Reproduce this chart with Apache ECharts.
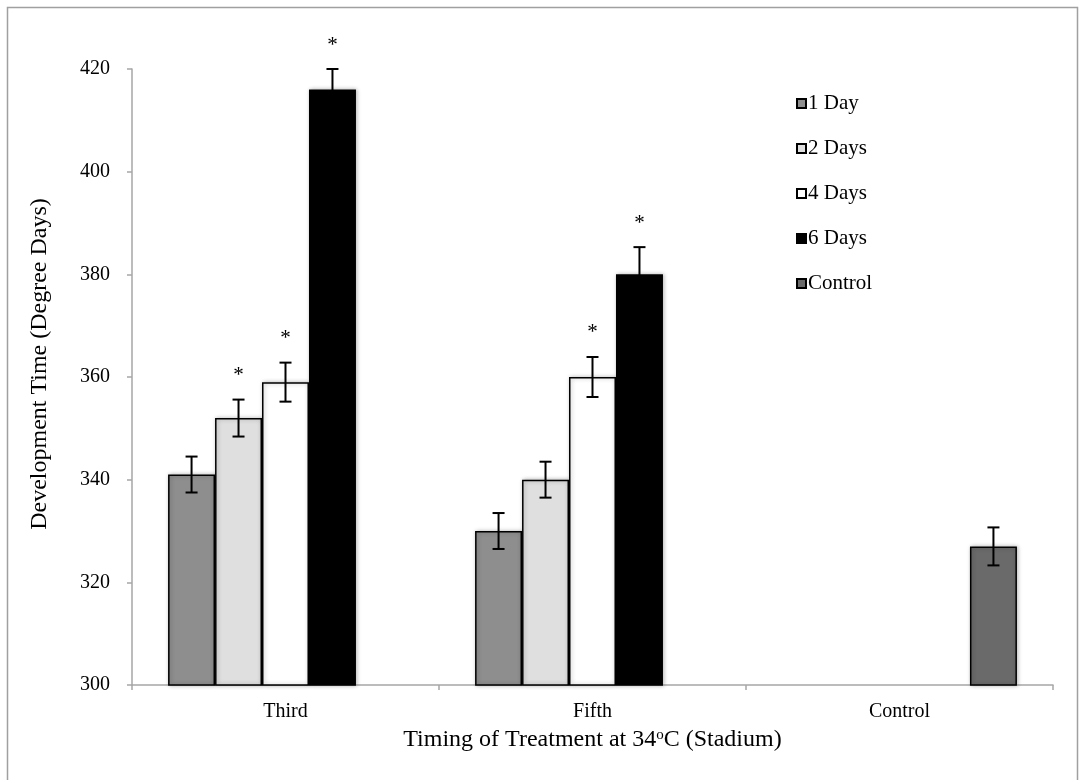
<!DOCTYPE html>
<html>
<head>
<meta charset="utf-8">
<script src="https://cdn.jsdelivr.net/npm/echarts@6/dist/echarts.min.js"></script>
<style>
html,body{margin:0;padding:0;background:#fff;}
#chart{width:1085px;height:780px;}
</style>
</head>
<body>
<div id="chart"></div>
<script>
// ---- data ----
var categories = ['Third', 'Fifth', 'Control'];
var seriesNames = ['1 Day', '2 Days', '4 Days', '6 Days', 'Control'];
var valOneDay   = [341, 330, null];
var valTwoDays  = [352, 340, null];
var valFourDays = [359, 360, null];
var valSixDays  = [416, 380, null];
var valControl  = [null, null, 327];
var errOneDay   = [3.5, 3.5, null];
var errTwoDays  = [3.6, 3.5, null];
var errFourDays = [3.8, 3.9, null];
var errSixDays  = [4.0, 5.3, null];
var errControl  = [null, null, 3.7];
var sigOneDay   = [0, 0, 0];
var sigTwoDays  = [1, 0, 0];
var sigFourDays = [1, 1, 0];
var sigSixDays  = [1, 1, 0];
var sigControl  = [0, 0, 0];
var yTicks = [300, 320, 340, 360, 380, 400, 420];
var xTitle = 'Timing of Treatment at 34{sup|o}C (Stadium)';
var yTitle = 'Development Time (Degree Days)';

var values = [valOneDay, valTwoDays, valFourDays, valSixDays, valControl];
var errors = [errOneDay, errTwoDays, errFourDays, errSixDays, errControl];
var sigs = [sigOneDay, sigTwoDays, sigFourDays, sigSixDays, sigControl];
var colors = ['#8e8e8e', '#dfdfdf', '#ffffff', '#000000', '#6a6a6a'];

var FONT = '"Liberation Serif", "DejaVu Serif", serif';
var CAT_GAP = 0.235;

var barSeries = seriesNames.map(function (name, i) {
  return {
    name: name,
    type: 'bar',
    data: values[i],
    barGap: '0%',
    barCategoryGap: (CAT_GAP * 100) + '%',
    itemStyle: {
      color: colors[i],
      borderColor: '#000',
      borderWidth: 1.5,
      shadowColor: 'rgba(0,0,0,0.28)',
      shadowBlur: 4,
      shadowOffsetX: 1
    },
    emphasis: { disabled: true },
    z: 2
  };
});

var errData = [];
for (var s = 0; s < seriesNames.length; s++) {
  for (var c = 0; c < categories.length; c++) {
    if (values[s][c] != null) {
      errData.push([c, s, values[s][c], errors[s][c], sigs[s][c]]);
    }
  }
}

var errSeries = {
  type: 'custom',
  data: errData,
  encode: { x: 0, y: 2 },
  z: 5,
  silent: true,
  renderItem: function (params, api) {
    var cat = api.value(0), si = api.value(1), v = api.value(2), e = api.value(3), star = api.value(4);
    var band = api.size([1, 0])[0];
    var bw = band * (1 - CAT_GAP) / seriesNames.length;
    var base = api.coord([cat, v]);
    var x = base[0] + (si - (seriesNames.length - 1) / 2) * bw;
    var top = api.coord([cat, v + e])[1];
    var bot = api.coord([cat, v - e])[1];
    var cap = 6;
    var st = { stroke: '#000', lineWidth: 2 };
    var children = [
      { type: 'line', shape: { x1: x, y1: top, x2: x, y2: bot }, style: st },
      { type: 'line', shape: { x1: x - cap, y1: top, x2: x + cap, y2: top }, style: st },
      { type: 'line', shape: { x1: x - cap, y1: bot, x2: x + cap, y2: bot }, style: st }
    ];
    if (star) {
      children.push({
        type: 'text',
        style: {
          text: '*', x: x, y: top - 24, align: 'center', verticalAlign: 'middle',
          font: '21px ' + FONT, fill: '#000'
        }
      });
    }
    return { type: 'group', children: children };
  }
};

var chart = echarts.init(document.getElementById('chart'), null, { renderer: 'canvas' });
chart.setOption({
  backgroundColor: '#fff',
  animation: false,
  graphic: [{
    type: 'rect',
    shape: { x: 7.5, y: 7.5, width: 1070, height: 820 },
    style: { fill: 'none', stroke: '#a0a0a0', lineWidth: 1.5 },
    silent: true,
    z: -10
  }, {
    type: 'text',
    x: 40,
    y: 364,
    rotation: Math.PI / 2,
    style: {
      text: yTitle, align: 'center', verticalAlign: 'middle',
      font: '24px ' + FONT, fill: '#000'
    },
    silent: true
  }],
  grid: { left: 132, right: 32, top: 69, bottom: 95 },
  legend: {
    data: seriesNames,
    orient: 'vertical',
    left: 791,
    top: 88,
    itemWidth: 9,
    itemHeight: 9,
    itemGap: 24,
    icon: 'rect',
    selectedMode: false,
    textStyle: { fontFamily: FONT, fontSize: 21, color: '#000', padding: [0, 0, 0, -3] }
  },
  xAxis: {
    type: 'category',
    data: categories,
    axisLine: { lineStyle: { color: '#a6a6a6', width: 1.5 } },
    axisTick: { show: true, alignWithLabel: false, length: 5, lineStyle: { color: '#a6a6a6', width: 1.5 } },
    axisLabel: { fontFamily: FONT, fontSize: 20, color: '#000', margin: 17 },
    name: xTitle,
    nameLocation: 'middle',
    nameGap: 43,
    nameTextStyle: {
      fontFamily: FONT, fontSize: 24, color: '#000',
      rich: { sup: { fontFamily: FONT, fontSize: 15, color: '#000', padding: [0, 0, 9, 0] } }
    }
  },
  yAxis: {
    type: 'value',
    min: yTicks[0],
    max: yTicks[yTicks.length - 1],
    interval: yTicks[1] - yTicks[0],
    axisLine: { show: true, lineStyle: { color: '#a6a6a6', width: 1.5 } },
    axisTick: { show: true, length: 5, lineStyle: { color: '#a6a6a6', width: 1.5 } },
    splitLine: { show: false },
    axisLabel: { fontFamily: FONT, fontSize: 20, color: '#000', margin: 22 }
  },
  series: barSeries.concat([errSeries])
});
</script>
</body>
</html>
